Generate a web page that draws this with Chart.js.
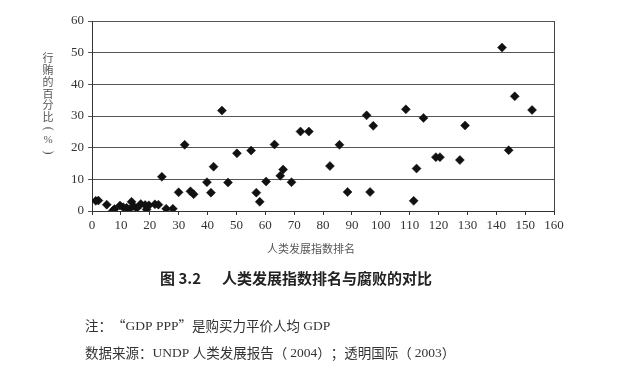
<!DOCTYPE html>
<html>
<head>
<meta charset="utf-8">
<script src="https://cdn.jsdelivr.net/npm/chart.js@4/dist/chart.umd.min.js"></script>
<style>
html,body{margin:0;padding:0;background:#fff;}
#wrap{width:640px;height:391px;position:relative;}
</style>
</head>
<body>
<div id="wrap"><canvas id="c" width="640" height="391"></canvas></div>
<script>
const hdiRank = [1.3,2.2,5.1,7.2,7.8,9.7,10.8,12,12.7,13.7,14.3,15.5,16.9,18.4,18.9,19.7,21.8,23,24.2,25.7,28,30,32.1,34.1,35.2,39.8,41.2,42.1,45,47.1,50.2,55.1,56.9,58.1,60.3,63.2,65.2,66.2,69.1,72.2,75.1,82.4,85.7,88.5,95.1,96.3,97.4,108.7,111.4,112.4,114.8,119.1,120.5,127.4,129.2,142,144.3,146.4,152.4];
const briberyPct = [3.2,3.3,2.0,0.1,0.6,1.7,1.2,1.0,0.4,2.9,1.6,0.9,2.2,1.9,0.5,1.8,2.1,2.0,10.8,0.7,0.7,5.9,20.9,6.2,5.3,9.1,5.8,14,31.7,9,18.2,19.1,5.8,2.9,9.3,21,11.1,13.1,9.1,25.1,25.1,14.2,20.9,6,30.2,6,26.9,32.1,3.2,13.4,29.4,17,17,16.1,27,51.6,19.2,36.2,31.9];
const xTicks = [0,10,20,30,40,50,60,70,80,90,100,110,120,130,140,150,160];
const yTicks = [0,10,20,30,40,50,60];
const xTitle = '人类发展指数排名';
const yTitleChars = ['行','贿','的','百','分','比','(','%',')'];
const captionNum = '图 3.2';
const captionText = '人类发展指数排名与腐败的对比';
const note1 = [['注：','c'],['“','q'],['GDP PPP','s'],['”','q'],['是购买力平价人均','c'],[' GDP','s']];
const note2 = [['数据来源：','c'],['UNDP ','s'],['人类发展报告','c'],['（ ','c'],['2004','s'],['）；','c'],['透明国际','c'],['（ ','c'],['2003','s'],['）','c']];

const points = hdiRank.map((x, i) => ({x: x, y: briberyPct[i]}));
const serif = '"Liberation Serif", "Noto Sans CJK SC", serif';
const cjk = '"Noto Sans CJK SC", sans-serif';

function drawRuns(ctx, x, y, runs, size) {
  runs.forEach(([t, k]) => {
    if (k === 's') {
      ctx.font = size + 'px ' + serif;
      ctx.fillText(t, x, y);
      x += ctx.measureText(t).width;
    } else if (k === 'q') {
      ctx.font = size + 'px ' + cjk;
      const w = ctx.measureText(t).width;
      const off = t === '“' ? size - w : 0;
      ctx.fillText(t, x + off, y);
      x += size;
    } else {
      ctx.font = size + 'px ' + cjk;
      ctx.fillText(t, x, y);
      x += ctx.measureText(t).width;
    }
  });
}

const decor = {
  id: 'decor',
  afterDraw(chart) {
    const ctx = chart.ctx;
    const a = chart.chartArea;
    ctx.save();
    ctx.strokeStyle = '#444';
    ctx.lineWidth = 1;
    ctx.beginPath();
    ctx.moveTo(Math.round(a.right) + 0.5, a.top);
    ctx.lineTo(Math.round(a.right) + 0.5, a.bottom);
    ctx.stroke();
    ctx.fillStyle = '#555';
    ctx.font = '11px ' + cjk;
    ctx.textAlign = 'center';
    ctx.textBaseline = 'middle';
    ctx.fillText(xTitle, 311, 249);
    let y = 58;
    yTitleChars.forEach((ch) => {
      if (ch === '(' || ch === ')') {
        ctx.save();
        ctx.translate(48, y);
        ctx.rotate(Math.PI / 2);
        ctx.font = '12px ' + serif;
        ctx.fillText(ch, 0, 0);
        ctx.restore();
      } else if (ch === '%') {
        ctx.font = '11px ' + serif;
        ctx.fillText(ch, 48, y);
      } else {
        ctx.font = '11px ' + cjk;
        ctx.fillText(ch, 48, y);
      }
      y += 11.8;
    });
    ctx.fillStyle = '#222';
    ctx.font = 'bold 15px ' + cjk;
    ctx.textAlign = 'left';
    ctx.fillText(captionNum, 160, 278);
    ctx.fillText(captionText, 222, 278);
    ctx.fillStyle = '#333';
    drawRuns(ctx, 85, 326, note1, 13.5);
    drawRuns(ctx, 85, 353, note2, 13.5);
    ctx.restore();
  }
};

new Chart(document.getElementById('c'), {
  type: 'scatter',
  data: {
    datasets: [{
      data: points,
      pointStyle: 'rectRot',
      pointRadius: 4.5,
      pointHoverRadius: 4.5,
      backgroundColor: '#111',
      borderColor: '#111',
      borderWidth: 0.5
    }]
  },
  options: {
    responsive: false,
    animation: false,
    events: [],
    layout: { padding: { left: 52, right: 86, top: 21, bottom: 150 } },
    plugins: { legend: { display: false }, tooltip: { enabled: false } },
    scales: {
      x: {
        type: 'linear',
        min: 0, max: 160,
        afterFit(s) { s.height = 30; },
        afterBuildTicks(s) { s.ticks = xTicks.map(v => ({value: v})); },
        grid: { drawOnChartArea: false, drawTicks: true, tickLength: 4, color: '#333' },
        border: { color: '#333', width: 1 },
        ticks: { color: '#333', padding: 3, font: { family: serif, size: 13 }, maxRotation: 0, autoSkip: false }
      },
      y: {
        min: 0, max: 60,
        afterFit(s) { s.width = 40; },
        afterBuildTicks(s) { s.ticks = yTicks.map(v => ({value: v})); },
        grid: { color: '#555', lineWidth: 1, tickLength: 4 },
        border: { color: '#333', width: 1 },
        ticks: { color: '#333', padding: 4, font: { family: serif, size: 13 } }
      }
    }
  },
  plugins: [decor]
});
</script>
</body>
</html>
